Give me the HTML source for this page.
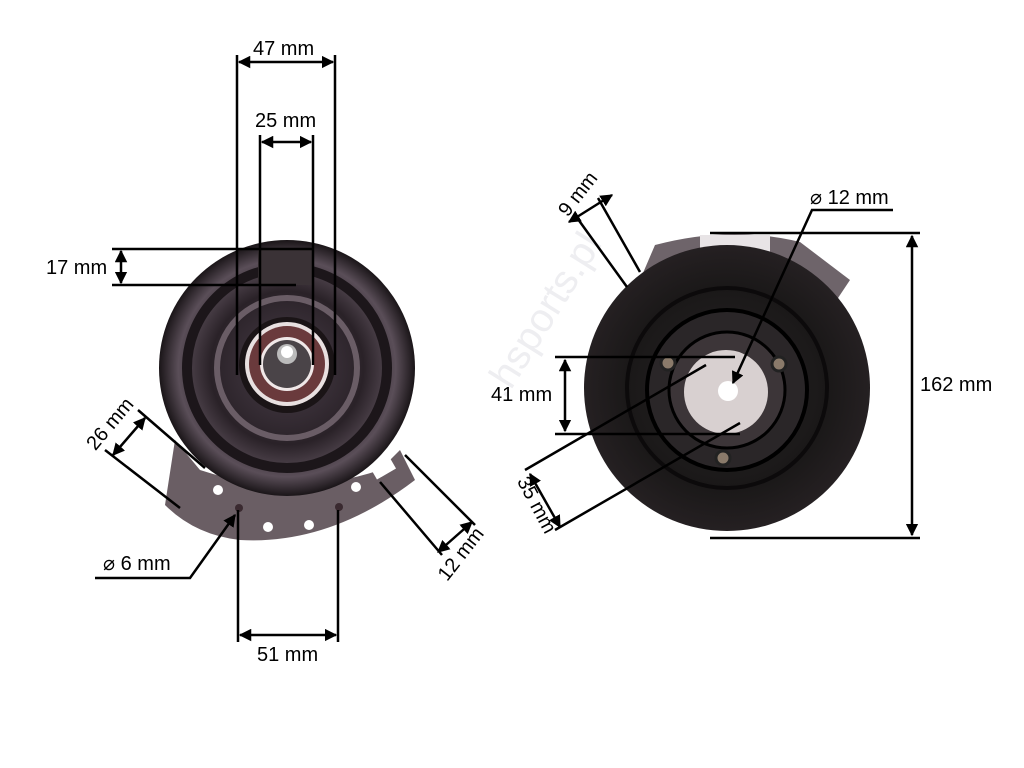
<!DOCTYPE html>
<html><head><style>body{margin:0;background:#fff}svg{display:block}text{font-family:"Liberation Sans",sans-serif;font-size:20px;fill:#000}</style></head>
<body>
<svg width="1024" height="768" viewBox="0 0 1024 768">
<defs>
<marker id="a" viewBox="0 0 10 10" refX="9" refY="5" markerWidth="5" markerHeight="5" orient="auto-start-reverse"><path d="M0,0L10,5L0,10z" fill="#000"/></marker>
<radialGradient id="g1" cx="50%" cy="50%" r="50%"><stop offset="0" stop-color="#4a3f4a"/><stop offset=".6" stop-color="#2a2228"/><stop offset=".85" stop-color="#5a4e58"/><stop offset="1" stop-color="#1a1518"/></radialGradient>
<radialGradient id="g2" cx="50%" cy="50%" r="50%"><stop offset="0" stop-color="#2a2628"/><stop offset=".7" stop-color="#1a1818"/><stop offset="1" stop-color="#252022"/></radialGradient>
</defs>
<text x="505" y="400" transform="rotate(-58 505 400)" style="font-size:40px;fill:#eeeef1">.hsports.pl</text>
<path d="M175,440 L200,470 Q290,500 380,470 L400,450 L415,480 Q330,545 240,540 Q195,535 165,505 Z" fill="#6a5e64"/>
<circle cx="287" cy="368" r="128" fill="url(#g1)"/>
<circle cx="287" cy="368" r="100" fill="none" stroke="#1c161a" stroke-width="10"/>
<circle cx="287" cy="368" r="70" fill="none" stroke="#6a5d66" stroke-width="6"/>
<circle cx="287" cy="365" r="48" fill="#1a1416"/>
<circle cx="287" cy="364" r="42" fill="#e8e0e0"/>
<circle cx="287" cy="364" r="38" fill="#6a3a3c"/>
<circle cx="287" cy="364" r="27" fill="#f0e8e8"/>
<circle cx="287" cy="364" r="24" fill="#4a4448"/>
<circle cx="287" cy="354" r="10" fill="#bbb"/>
<circle cx="287" cy="352" r="6" fill="#fff"/>
<rect x="258" y="250" width="55" height="35" fill="#3a3236"/>
<g fill="#fff"><circle cx="218" cy="490" r="5"/><circle cx="268" cy="527" r="5"/><circle cx="309" cy="525" r="5"/><circle cx="356" cy="487" r="5"/><rect x="372" y="462" width="22" height="13" transform="rotate(-30 383 468)"/></g>
<g fill="#3a2a30"><circle cx="239" cy="508" r="4"/><circle cx="339" cy="507" r="4"/></g>
<path d="M640,280 L655,245 Q730,225 800,242 L850,280 L830,310 L640,310Z" fill="#6e646a"/>
<rect x="700" y="235" width="70" height="20" fill="#e8e4e6"/>
<circle cx="727" cy="388" r="143" fill="url(#g2)"/>
<circle cx="727" cy="388" r="100" fill="none" stroke="#0c0a0b" stroke-width="4"/>
<circle cx="727" cy="390" r="80" fill="#2a2628" stroke="#000" stroke-width="4"/>
<circle cx="727" cy="390" r="58" fill="#3c3538" stroke="#000" stroke-width="3"/>
<circle cx="726" cy="392" r="42" fill="#d8d0d0"/>
<circle cx="728" cy="391" r="10" fill="#fff"/>
<g fill="#8a7a6a" stroke="#222" stroke-width="3"><circle cx="668" cy="363" r="7"/><circle cx="779" cy="364" r="7"/><circle cx="723" cy="458" r="7"/></g>
<g stroke="#000" stroke-width="2.5" fill="none">
<path d="M237,55V375M335,55V375"/><path d="M239,62H333" marker-start="url(#a)" marker-end="url(#a)"/>
<path d="M260,135V365M313,135V365"/><path d="M262,142H311" marker-start="url(#a)" marker-end="url(#a)"/>
<path d="M112,249H313M112,285H296"/><path d="M121,251V283" marker-start="url(#a)" marker-end="url(#a)"/>
<path d="M138,410L205,468M105,450L180,508"/><path d="M145,418L113,455" marker-start="url(#a)" marker-end="url(#a)"/>
<path d="M95,578H190L235,515" marker-end="url(#a)"/>
<path d="M238,510V642M338,510V642"/><path d="M240,635H336" marker-start="url(#a)" marker-end="url(#a)"/>
<path d="M380,482L442,555M405,455L475,525"/><path d="M438,552L472,522" marker-start="url(#a)" marker-end="url(#a)"/>
<path d="M575,215L627,287M598,198L640,272"/><path d="M569,222L612,195" marker-start="url(#a)" marker-end="url(#a)"/>
<path d="M893,210H812L733,383" marker-end="url(#a)"/>
<path d="M710,233H920M710,538H920"/><path d="M912,236V535" marker-start="url(#a)" marker-end="url(#a)"/>
<path d="M555,357H735M555,434H740"/><path d="M565,360V431" marker-start="url(#a)" marker-end="url(#a)"/>
<path d="M525,470L706,365M555,530L740,423"/><path d="M530,474L560,527" marker-start="url(#a)" marker-end="url(#a)"/>
</g>
<text x="253" y="55">47 mm</text>
<text x="255" y="127">25 mm</text>
<text x="46" y="274">17 mm</text>
<text x="115" y="428" transform="rotate(-50 115 428)" text-anchor="middle">26 mm</text>
<text x="103" y="570">⌀ 6 mm</text>
<text x="257" y="661">51 mm</text>
<text x="466" y="558" transform="rotate(-52 466 558)" text-anchor="middle">12 mm</text>
<text x="583" y="198" transform="rotate(-52 583 198)" text-anchor="middle">9 mm</text>
<text x="810" y="204">⌀ 12 mm</text>
<text x="920" y="391">162 mm</text>
<text x="491" y="401">41 mm</text>
<text x="531" y="508" transform="rotate(62 531 508)" text-anchor="middle">35 mm</text>
</svg>
</body></html>
